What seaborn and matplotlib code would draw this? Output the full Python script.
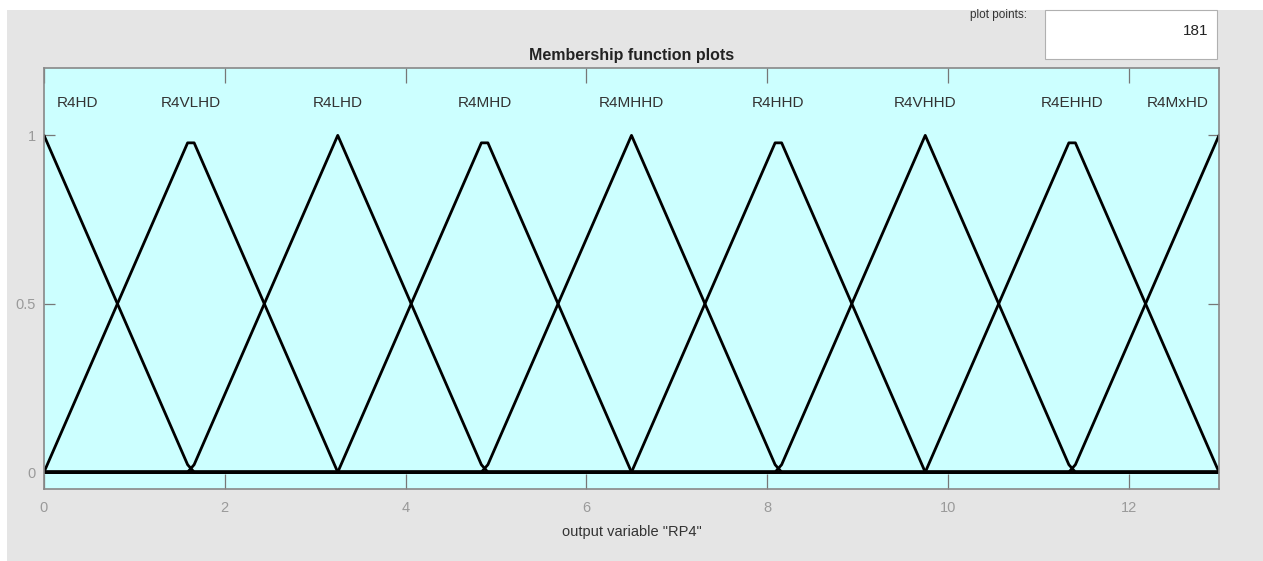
import numpy as np
import pandas as pd
import matplotlib
matplotlib.use("Agg")
import matplotlib.pyplot as plt
import seaborn as sns
from matplotlib.patches import Rectangle

# Output membership functions of "RP4" (triangular, parameters a, b, c)
mf_names = ["R4HD", "R4VLHD", "R4LHD", "R4MHD", "R4MHHD",
            "R4HHD", "R4VHHD", "R4EHHD", "R4MxHD"]
mf_a = [-1.625, 0.0, 1.625, 3.25, 4.875, 6.5, 8.125, 9.75, 11.375]
mf_b = [0.0, 1.625, 3.25, 4.875, 6.5, 8.125, 9.75, 11.375, 13.0]
mf_c = [1.625, 3.25, 4.875, 6.5, 8.125, 9.75, 11.375, 13.0, 14.625]
x_range = [0, 13]
plot_points = 181
x_ticks = [0, 2, 4, 6, 8, 10, 12]
y_ticks = [0, 0.5, 1]
y_ticklabels = ["0", "0.5", "1"]
var_label = 'output variable "RP4"'

FONT = ["Liberation Sans Narrow", "Liberation Sans", "DejaVu Sans"]

sns.set_theme(style="white")
plt.rcParams["font.family"] = FONT


def trimf(x, a, b, c):
    left = (x - a) / (b - a)
    right = (c - x) / (c - b)
    return np.clip(np.minimum(left, right), 0, 1)


xs = np.linspace(x_range[0], x_range[1], plot_points)
frames = []
for name, a, b, c in zip(mf_names, mf_a, mf_b, mf_c):
    frames.append(pd.DataFrame({"x": xs, "mu": trimf(xs, a, b, c), "mf": name}))
df = pd.concat(frames, ignore_index=True)

W, H = 1263, 561
fig = plt.figure(figsize=(W / 100, H / 100), dpi=100)
fig.patch.set_facecolor("white")
# grey window panel
fig.patches.append(Rectangle((7 / W, 0), 1 - 7 / W, 1 - 10 / H,
                             transform=fig.transFigure, facecolor="#e5e5e5",
                             edgecolor="none", zorder=-10))
# "plot points" edit box
fig.patches.append(Rectangle((1045 / W, 1 - 59 / H), (1217 - 1045) / W, (59 - 10) / H,
                             transform=fig.transFigure, facecolor="white",
                             edgecolor="#b0b0b0", linewidth=0.8, zorder=-5))
fig.text(1027 / W, 1 - 15 / H, "plot points:", ha="right", va="center",
         fontsize=8.5, color="#333333")
fig.text(1208 / W, 1 - 31 / H, str(plot_points), ha="right", va="center",
         fontsize=11, color="#222222")

ax = fig.add_axes([44 / W, 1 - 489 / H, (1219 - 44) / W, (489 - 68) / H])
ax.set_facecolor("#ccffff")

sns.lineplot(data=df, x="x", y="mu", units="mf", estimator=None,
             color="black", linewidth=2.0, ax=ax, legend=False)

ax.set_xlim(x_range)
ax.set_ylim(-0.05, 1.2)
ax.set_xticks(x_ticks)
ax.set_yticks(y_ticks)
ax.set_yticklabels(y_ticklabels)
ax.tick_params(axis="both", direction="in", colors="#777777",
               labelcolor="#9a9a9a", labelsize=10.5, width=0.9,
               top=True, right=True, bottom=True, left=True)
ax.tick_params(axis="x", length=11, pad=9)
ax.tick_params(axis="y", length=8, pad=6)
for s in ax.spines.values():
    s.set_color("#888888")
    s.set_linewidth(1.2)

ax.set_xlabel(var_label, fontsize=10.5, color="#333333", labelpad=7)
ax.set_ylabel("")
ax.set_title("Membership function plots", fontsize=11.5, fontweight="bold",
             color="#222222", pad=6)

# membership function names above each peak
span = x_range[1] - x_range[0]
for i, (name, b) in enumerate(zip(mf_names, mf_b)):
    if i == 0:
        xp, ha = b + 0.011 * span, "left"
    elif i == len(mf_names) - 1:
        xp, ha = b - 0.009 * span, "right"
    else:
        xp, ha = b, "center"
    ax.text(xp, 1.095, name, ha=ha, va="center", fontsize=11, color="#333333")

fig.savefig("out.png", dpi=100)
